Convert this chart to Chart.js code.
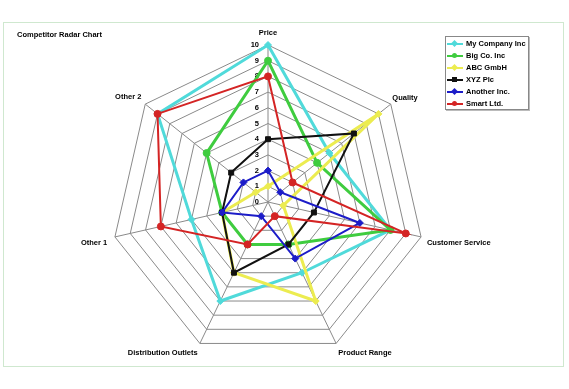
<!DOCTYPE html>
<html>
<head>
<meta charset="utf-8">
<script src="https://cdn.jsdelivr.net/npm/chart.js@4.4.1/dist/chart.umd.min.js"></script>
<style>
  body { margin: 0; background: #fff; }
  #wrap { position: relative; width: 569px; height: 389px; font-family: "Liberation Sans", Arial, sans-serif; font-weight: bold; color: #000; }
  #frame { position: absolute; left: 3px; top: 22px; width: 559px; height: 343px; border: 1px solid #cfe8cf; }
  #chart { position: absolute; left: 0; top: 0; }
  #title { position: absolute; left: 17px; top: 30px; font-size: 7.5px; white-space: nowrap; }
  #legend { position: absolute; left: 445px; top: 36px; width: 82px; height: 72px; border: 1px solid #888; background: #fff; box-shadow: 1px 1px 0 #bbb; }
  .row { position: absolute; left: 0; width: 82px; height: 12px; font-size: 7.5px; line-height: 12px; white-space: nowrap; }
  .row .ln { position: absolute; left: 1px; top: 5px; width: 16px; height: 2px; }
  .row .mk { position: absolute; left: 6px; top: 3px; width: 5px; height: 5px; }
  .row span { position: absolute; left: 20px; top: 0; }
</style>
</head>
<body>
<div id="wrap">
  <div id="frame"></div>
  <canvas id="chart" width="569" height="389"></canvas>
  <div id="title">Competitor Radar Chart</div>
  <div id="legend"></div>
</div>
<script>
// categories and values
const axisLabels = ['Price', 'Quality', 'Customer Service', 'Product Range', 'Distribution Outlets', 'Other 1', 'Other 2'];
const scaleTicks = [0, 1, 2, 3, 4, 5, 6, 7, 8, 9, 10];

const seriesNames = ['My Company Inc', 'Big Co. Inc', 'ABC GmbH', 'XYZ Plc', 'Another Inc.', 'Smart Ltd.'];
const myCompany = [10, 5, 8, 5, 7, 5, 9];
const bigCo     = [9, 4, 8, 3, 3, 3, 5];
const abcGmbh   = [1, 9, 1, 7, 5, 3, 1];
const xyzPlc    = [4, 7, 3, 3, 5, 3, 3];
const another   = [2, 1, 6, 4, 1, 3, 2];
const smartLtd  = [8, 2, 9, 1, 3, 7, 9];

const seriesData   = [myCompany, bigCo, abcGmbh, xyzPlc, another, smartLtd];
const seriesColors = ['#50dada', '#3fcc3f', '#ecec50', '#111111', '#1c1cc8', '#d42424'];
const seriesWidths = [3, 3, 3, 2, 2, 2];
const seriesPoints = ['rectRot', 'circle', 'rectRot', 'rect', 'rectRot', 'circle'];

// gap between the outer ring and each axis title
const labelGaps = [8, 2, 6, 5, 5, 8, 5];

const FONT = '"Liberation Sans", Arial, sans-serif';

// tick numbers sit left of the Price spoke, 0 included
const tickLabelPlugin = {
    id: 'tickLabels',
    beforeDatasetsDraw(chart) {
        const r = chart.scales.r;
        const ctx = chart.ctx;
        ctx.save();
        ctx.font = 'bold 7.5px ' + FONT;
        ctx.fillStyle = '#000';
        ctx.textAlign = 'right';
        ctx.textBaseline = 'middle';
        scaleTicks.forEach(v => {
            const d = r.getDistanceFromCenterForValue(v);
            ctx.fillText(String(v), r.xCenter - 9, r.yCenter - d);
        });
        ctx.restore();
    }
};

const datasets = seriesNames.map((name, i) => ({
    label: name,
    data: seriesData[i],
    borderColor: seriesColors[i],
    backgroundColor: seriesColors[i],
    pointBackgroundColor: seriesColors[i],
    pointBorderColor: seriesColors[i],
    borderWidth: seriesWidths[i],
    pointStyle: seriesPoints[i],
    pointRadius: 3.5,
    pointBorderWidth: 1,
    fill: false,
    tension: 0,
    order: seriesNames.length - i
}));

new Chart(document.getElementById('chart'), {
    type: 'radar',
    data: { labels: axisLabels, datasets: datasets },
    options: {
        responsive: false,
        animation: false,
        layout: { padding: { left: 20, right: 52, top: 20, bottom: 21 } },
        plugins: {
            legend: { display: false },
            title: { display: false },
            tooltip: { enabled: false }
        },
        scales: {
            r: {
                min: 0,
                max: 10,
                ticks: { display: false, stepSize: 1 },
                grid: { color: '#8a8a8a', lineWidth: 1 },
                angleLines: { color: '#8a8a8a', lineWidth: 1 },
                pointLabels: {
                    color: '#000',
                    padding: ctx => labelGaps[ctx.index],
                    font: { family: FONT, size: 7.5, weight: 'bold' }
                }
            }
        }
    },
    plugins: [tickLabelPlugin]
});

// legend box
const legend = document.getElementById('legend');
seriesNames.forEach((name, i) => {
    const row = document.createElement('div');
    row.className = 'row';
    row.style.top = (1 + i * 12) + 'px';
    const ln = document.createElement('div');
    ln.className = 'ln';
    ln.style.background = seriesColors[i];
    const mk = document.createElement('div');
    mk.className = 'mk';
    mk.style.background = seriesColors[i];
    if (seriesPoints[i] === 'circle') mk.style.borderRadius = '50%';
    if (seriesPoints[i] === 'rectRot') mk.style.transform = 'rotate(45deg)';
    const txt = document.createElement('span');
    txt.textContent = name;
    row.appendChild(ln);
    row.appendChild(mk);
    row.appendChild(txt);
    legend.appendChild(row);
});
</script>
</body>
</html>
